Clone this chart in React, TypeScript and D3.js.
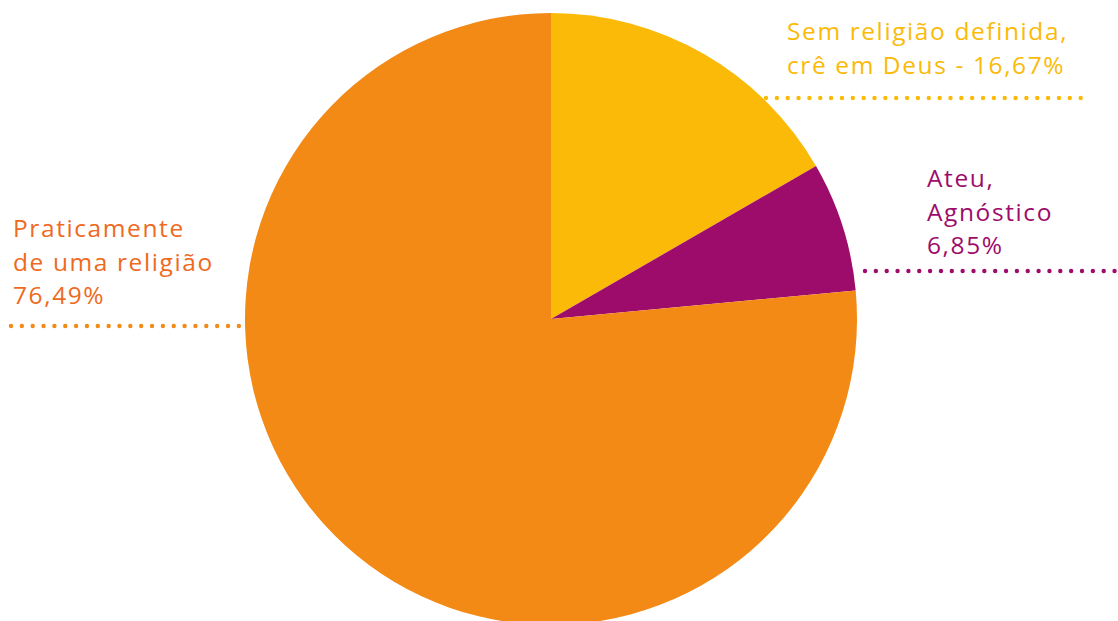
import React from "react";
import * as d3 from "d3";

const categories = ["Sem religião definida, crê em Deus", "Ateu, Agnóstico", "Praticamente de uma religião"];
const values = [16.67, 6.85, 76.49];
const sliceColors = ["#FBBA07", "#9E0C6B", "#F28A15"];
const labelColors = ["#FBBA07", "#9E0C6B", "#EE6A1E"];
const labelLines = [
  ["Sem religião definida,", "crê em Deus - 16,67%"],
  ["Ateu,", "Agnóstico", "6,85%"],
  ["Praticamente", "de uma religião", "76,49%"],
];

const W = 1118, H = 621;
const cx = 551, cy = 319, R = 306;

const labelPos = [
  { x: 787, y: 40, lineY: 98, x1: 766, x2: 1084 },
  { x: 927, y: 187, lineY: 271, x1: 865, x2: 1120 },
  { x: 13, y: 237, lineY: 326, x1: 11, x2: 244 },
];

export default function App() {
  const pie = d3.pie<number>().sort(null).value((d) => d)(values);
  const arc = d3.arc<d3.PieArcDatum<number>>().innerRadius(0).outerRadius(R);
  return (
    <svg width={W} height={H} style={{ position: "absolute", left: 0, top: 0, background: "#fff" }}>
      <g transform={`translate(${cx},${cy})`}>
        {pie.map((p, i) => (
          <path key={i} d={arc(p) || ""} fill={sliceColors[i]} />
        ))}
      </g>
      {labelPos.map((lp, i) => (
        <g key={i}>
          <line x1={lp.x1} x2={lp.x2} y1={lp.lineY} y2={lp.lineY} stroke={sliceColors[i]}
            strokeWidth={4.4} strokeLinecap="round" strokeDasharray="0 10.85" />
          <text x={lp.x} y={lp.y} fill={labelColors[i]} fontFamily="'Open Sans', sans-serif" fontSize={24.5} letterSpacing={1.6}>
            {labelLines[i].map((t, j) => (
              <tspan key={j} x={lp.x} dy={j === 0 ? 0 : 33.5}>{t}</tspan>
            ))}
          </text>
        </g>
      ))}
    </svg>
  );
}
